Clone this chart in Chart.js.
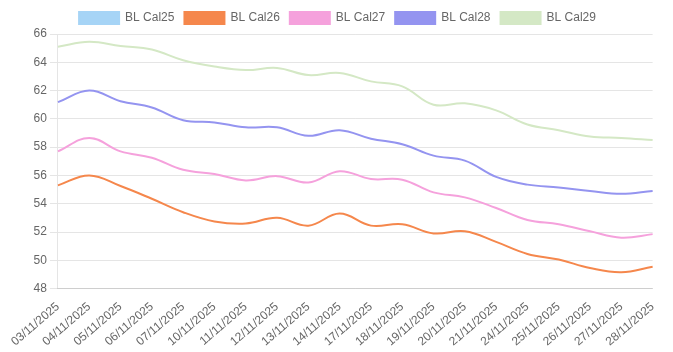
<!DOCTYPE html>
<html>
<head>
<meta charset="utf-8">
<script src="https://cdn.jsdelivr.net/npm/chart.js@4/dist/chart.umd.min.js"></script>
<style>
	html, body { margin: 0; padding: 0; background: #fff; }
	#wrap { width: 655px; height: 352px; padding-left: 10px; }
</style>
</head>
<body>
<div id="wrap"><canvas id="myChart"></canvas></div>
<script>
const labels = [
	'03/11/2025', '04/11/2025', '05/11/2025', '06/11/2025', '07/11/2025',
	'10/11/2025', '11/11/2025', '12/11/2025', '13/11/2025', '14/11/2025',
	'17/11/2025', '18/11/2025', '19/11/2025', '20/11/2025', '21/11/2025',
	'24/11/2025', '25/11/2025', '26/11/2025', '27/11/2025', '28/11/2025'
];
const cal25 = [];
const cal26 = [55.3, 56.0, 55.25, 54.35, 53.4, 52.75, 52.6, 53.0, 52.45, 53.3,
	52.45, 52.55, 51.9, 52.05, 51.3, 50.45, 50.05, 49.45, 49.15, 49.55];
const cal27 = [57.7, 58.65, 57.7, 57.25, 56.4, 56.1, 55.65, 55.95, 55.5, 56.3,
	55.75, 55.7, 54.8, 54.45, 53.7, 52.85, 52.55, 52.05, 51.6, 51.85];
const cal28 = [61.18, 62.0, 61.25, 60.8, 59.9, 59.75, 59.4, 59.4, 58.8, 59.2,
	58.6, 58.2, 57.4, 57.05, 55.9, 55.35, 55.15, 54.9, 54.7, 54.9];
const cal29 = [65.1, 65.45, 65.15, 64.9, 64.15, 63.7, 63.45, 63.6, 63.1, 63.25,
	62.65, 62.3, 61.0, 61.1, 60.6, 59.6, 59.2, 58.75, 58.65, 58.5];
const yTicks = { min: 48, max: 66, step: 2 };

function line(label, values, color){
	return {
		label: label,
		data: values,
		borderColor: color,
		backgroundColor: color,
		borderWidth: 2,
		pointRadius: 0,
		tension: 0.4,
		fill: false
	};
}

function createChart(){
	var chart = document.getElementById('myChart');
	const data = {
		labels: labels,
		datasets: [
			line('BL Cal25', cal25, '#a6d4f6'),
			line('BL Cal26', cal26, '#f5874c'),
			line('BL Cal27', cal27, '#f5a1dc'),
			line('BL Cal28', cal28, '#9494f0'),
			line('BL Cal29', cal29, '#d4e8c5')
		]
	};
	const config = {
		type: 'line',
		data: data,
		options: {
			responsive: true,
			maintainAspectRatio: false,
			animation: false,
			layout: { padding: { top: 2 } },
			plugins: {
				legend: { labels: { font: { size: 12 }, color: '#666' } }
			},
			scales: {
				x: {
					grid: { display: false },
					ticks: { autoSkip: false, color: '#666' }
				},
				y: {
					min: yTicks.min,
					max: yTicks.max,
					ticks: { stepSize: yTicks.step, color: '#666' }
				}
			}
		}
	};
	const myChart = new Chart(chart, config);
}

document.addEventListener("DOMContentLoaded", createChart);
</script>
</body>
</html>
